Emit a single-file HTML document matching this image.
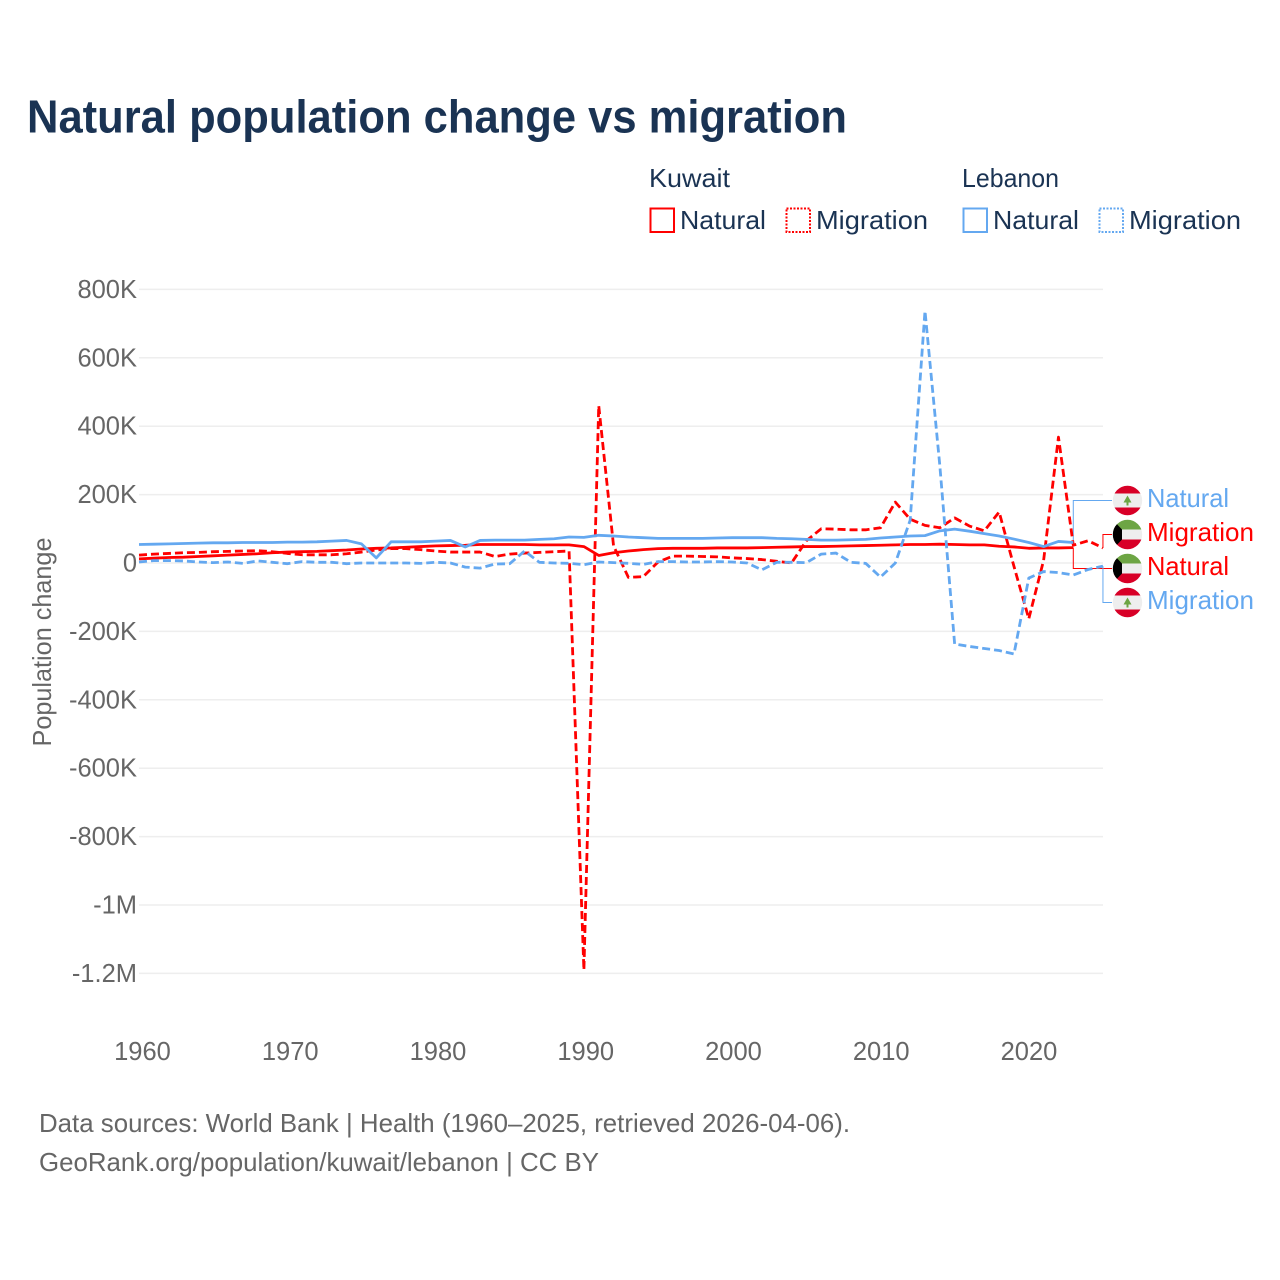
<!DOCTYPE html>
<html lang="en">
<head>
<meta charset="utf-8">
<title>Natural population change vs migration</title>
<style>
html,body{margin:0;padding:0;background:#fff;}
svg{display:block;}
text{font-family:"Liberation Sans",sans-serif;}
</style>
</head>
<body>
<svg id="chart" xmlns="http://www.w3.org/2000/svg" width="1280" height="1280" viewBox="0 0 1280 1280">
  <defs>
    <clipPath id="flag-clip"><circle cx="0" cy="0" r="14.7"></circle></clipPath>
  </defs>
  <rect x="0" y="0" width="1280" height="1280" fill="#fff"></rect>
  <text x="27" y="132.5" font-size="46" font-weight="700" fill="#1a3353" textLength="820" lengthAdjust="spacingAndGlyphs">Natural population change vs migration</text>

  <g font-size="26" fill="#1a3353">
    <text x="649" y="187" textLength="81" lengthAdjust="spacingAndGlyphs">Kuwait</text>
    <text x="962" y="187" textLength="97" lengthAdjust="spacingAndGlyphs">Lebanon</text>
    <g>
      <rect x="650.5" y="208.5" width="23.5" height="23.5" fill="none" stroke="#ff0000" stroke-width="2"></rect>
      <text x="680" y="229" textLength="86" lengthAdjust="spacingAndGlyphs">Natural</text>
    </g>
    <g>
      <rect x="786.5" y="208.5" width="23.5" height="23.5" fill="none" stroke="#ff0000" stroke-width="2" stroke-dasharray="2 1.5"></rect>
      <text x="816" y="229" textLength="112" lengthAdjust="spacingAndGlyphs">Migration</text>
    </g>
    <g>
      <rect x="963.5" y="208.5" width="23.5" height="23.5" fill="none" stroke="#64a8f0" stroke-width="2"></rect>
      <text x="993" y="229" textLength="86" lengthAdjust="spacingAndGlyphs">Natural</text>
    </g>
    <g>
      <rect x="1099.5" y="208.5" width="23.5" height="23.5" fill="none" stroke="#64a8f0" stroke-width="2" stroke-dasharray="2 1.5"></rect>
      <text x="1129" y="229" textLength="112" lengthAdjust="spacingAndGlyphs">Migration</text>
    </g>
  </g>

  <g id="grid"></g>
  <g id="y-ticks"></g>
  <g id="x-ticks"></g>
  <text transform="translate(51,642) rotate(-90)" text-anchor="middle" font-size="26" fill="#666666" textLength="209" lengthAdjust="spacingAndGlyphs">Population change</text>
  <g id="leaders"></g>
  <g id="series"></g>

  <g transform="translate(1127.5,500.5)">
    <g clip-path="url(#flag-clip)">
      <rect x="-15" y="-15" width="30" height="30" fill="#eeeeee"></rect>
      <rect x="-15" y="-15" width="30" height="8" fill="#d80027"></rect>
      <rect x="-15" y="7" width="30" height="8" fill="#d80027"></rect>
      <polygon points="0,-5 4,2 1,2 1,5 -1,5 -1,2 -4,2" fill="#6da544"></polygon>
    </g>
  </g>
  <g transform="translate(1127.5,534.5)">
    <g clip-path="url(#flag-clip)">
      <rect x="-15" y="-15" width="30" height="10" fill="#6da544"></rect>
      <rect x="-15" y="-5" width="30" height="10" fill="#eeeeee"></rect>
      <rect x="-15" y="5" width="30" height="10" fill="#d80027"></rect>
      <polygon points="-15,-15 -5.5,-5 -5.5,5 -15,15" fill="#000000"></polygon>
    </g>
  </g>
  <g transform="translate(1127.5,568.5)">
    <g clip-path="url(#flag-clip)">
      <rect x="-15" y="-15" width="30" height="10" fill="#6da544"></rect>
      <rect x="-15" y="-5" width="30" height="10" fill="#eeeeee"></rect>
      <rect x="-15" y="5" width="30" height="10" fill="#d80027"></rect>
      <polygon points="-15,-15 -5.5,-5 -5.5,5 -15,15" fill="#000000"></polygon>
    </g>
  </g>
  <g transform="translate(1127.5,602.5)">
    <g clip-path="url(#flag-clip)">
      <rect x="-15" y="-15" width="30" height="30" fill="#eeeeee"></rect>
      <rect x="-15" y="-15" width="30" height="8" fill="#d80027"></rect>
      <rect x="-15" y="7" width="30" height="8" fill="#d80027"></rect>
      <polygon points="0,-5 4,2 1,2 1,5 -1,5 -1,2 -4,2" fill="#6da544"></polygon>
    </g>
  </g>

  <g font-size="26">
    <text x="1147" y="507" fill="#64a8f0" textLength="82" lengthAdjust="spacingAndGlyphs">Natural</text>
    <text x="1147" y="541" fill="#ff0000" textLength="107" lengthAdjust="spacingAndGlyphs">Migration</text>
    <text x="1147" y="575" fill="#ff0000" textLength="82" lengthAdjust="spacingAndGlyphs">Natural</text>
    <text x="1147" y="609" fill="#64a8f0" textLength="107" lengthAdjust="spacingAndGlyphs">Migration</text>
  </g>

  <g font-size="26" fill="#666666">
    <text x="39" y="1132" textLength="811" lengthAdjust="spacingAndGlyphs">Data sources: World Bank | Health (1960–2025, retrieved 2026-04-06).</text>
    <text x="39" y="1171" textLength="560" lengthAdjust="spacingAndGlyphs">GeoRank.org/population/kuwait/lebanon | CC BY</text>
  </g>
</svg>

<script>
const yTickValues = [800, 600, 400, 200, 0, -200, -400, -600, -800, -1000, -1200];
const yTickLabels = ["800K", "600K", "400K", "200K", "0", "-200K", "-400K", "-600K", "-800K", "-1M", "-1.2M"];
const xTickYears = [1960, 1970, 1980, 1990, 2000, 2010, 2020];
const xTickLabels = ["1960", "1970", "1980", "1990", "2000", "2010", "2020"];

const firstYear = 1960;

// Values in thousands of people, one per year starting at 1960
const kuwaitNatural = [
  12, 14, 16, 17, 19, 21, 23, 25, 27, 30,
  32, 33, 34, 36, 38, 41, 43, 44, 46, 48,
  50, 51, 52, 54, 54, 54, 54, 53, 53, 53,
  48, 22, 30, 35, 39, 42, 43, 43, 43, 44,
  44, 44, 45, 46, 47, 48, 48, 49, 50, 51,
  52, 53, 54, 54, 55, 54, 53, 53, 49, 47,
  43, 44, 44, 45
];
const kuwaitMigration = [
  23, 26, 28, 30, 31, 33, 34, 35, 36, 33,
  28, 24, 24, 24, 27, 32, 38, 42, 42, 39,
  35, 32, 32, 32, 19, 26, 29, 31, 33, 35,
  -1190, 460, 50, -42, -40, 3, 20, 20, 19, 18,
  15, 13, 10, 5, 0, 65, 100, 99, 97, 97,
  103, 178, 128, 110, 103, 132, 108, 94, 149, -10,
  -163, 8, 368, 52, 65, 44
];
const lebanonNatural = [
  54, 55, 56, 57, 58, 59, 59, 60, 60, 60,
  61, 61, 62, 64, 66, 56, 15, 62, 62, 62,
  64, 66, 47, 66, 67, 67, 67, 69, 71, 76,
  75, 81, 79, 76, 74, 72, 72, 72, 72, 73,
  74, 74, 74, 72, 71, 69, 67, 67, 68, 69,
  73, 76, 79, 80, 94, 99, 93, 86, 79, 70,
  60, 48, 63, 60
];
const lebanonMigration = [
  3, 7, 7, 6, 3, 1, 3, -1, 6, 2,
  -2, 4, 2, 2, -2, 0, 0, 0, 0, -1,
  2, 0, -12, -15, -3, -2, 35, 2, 0, -1,
  -5, 3, 1, -1, -4, 4, 4, 3, 3, 4,
  3, 0, -20, 2, 2, 1, 26, 29, 2, -1,
  -41, 0, 125, 737, 285, -237, -244, -250, -256, -266,
  -44, -25, -28, -35, -19, -9
];

const svgNS = "http://www.w3.org/2000/svg";
const xScale = function (year) { return 139 + (year - firstYear) * 14.83; };
const yScale = function (value) { return 563 - value * 0.342; };
const xLabelPos = function (year) { return 142.5 + (year - firstYear) * 14.775; };

const gridLayer = document.getElementById("grid");
const yTickLayer = document.getElementById("y-ticks");
const xTickLayer = document.getElementById("x-ticks");
const seriesLayer = document.getElementById("series");
const leaderLayer = document.getElementById("leaders");

yTickValues.forEach(function (value, i) {
  const line = document.createElementNS(svgNS, "line");
  
  
  line.setAttribute("x1", 139);
  line.setAttribute("x2", 1103);
  line.setAttribute("y1", yScale(value));
  line.setAttribute("y2", yScale(value));
  line.setAttribute("stroke", "#eeeeee");
  line.setAttribute("stroke-width", "1.5");
  gridLayer.appendChild(line);

  const label = document.createElementNS(svgNS, "text");
  
  
  label.setAttribute("x", 137);
  label.setAttribute("y", yScale(value) + 8.5);
  label.setAttribute("text-anchor", "end");
  label.setAttribute("font-size", "25.5");
  label.setAttribute("fill", "#666666");
  label.textContent = yTickLabels[i];
  yTickLayer.appendChild(label);
});

xTickYears.forEach(function (year, i) {
  const label = document.createElementNS(svgNS, "text");
  
  
  label.setAttribute("x", xLabelPos(year));
  label.setAttribute("y", 1060);
  label.setAttribute("text-anchor", "middle");
  label.setAttribute("font-size", "25.5");
  label.setAttribute("fill", "#666666");
  label.textContent = xTickLabels[i];
  xTickLayer.appendChild(label);
});

function linePath(values) {
  return values.map(function (value, i) {
    return (i === 0 ? "M" : "L") + xScale(firstYear + i).toFixed(2) + " " + yScale(value).toFixed(2);
  }).join(" ");
}

function addLine(values, color, dashed) {
  const path = document.createElementNS(svgNS, "path");
  path.setAttribute("d", linePath(values));
  path.setAttribute("fill", "none");
  path.setAttribute("stroke", color);
  path.setAttribute("stroke-width", "2.8");
  path.setAttribute("stroke-linejoin", "round");
  if (dashed) { path.setAttribute("stroke-dasharray", "8 4"); }
  seriesLayer.appendChild(path);
  return path;
}

function addLeader(values, labelY, color) {
  const lastIndex = values.length - 1;
  const path = document.createElementNS(svgNS, "path");
  path.setAttribute("d", "M" + xScale(firstYear + lastIndex).toFixed(2) + " " + yScale(values[lastIndex]).toFixed(2) + " V" + labelY + " H1112");
  path.setAttribute("fill", "none");
  path.setAttribute("stroke", color);
  path.setAttribute("stroke-width", "1");
  leaderLayer.appendChild(path);
  return path;
}

const leaderA = addLeader(lebanonNatural, 500.5, "#64a8f0");


const leaderB = addLeader(kuwaitMigration, 534.5, "#ff0000");


const leaderC = addLeader(kuwaitNatural, 568.5, "#ff0000");


const leaderD = addLeader(lebanonMigration, 602.5, "#64a8f0");



const lineKuwaitNatural = addLine(kuwaitNatural, "#ff0000", false);


const lineKuwaitMigration = addLine(kuwaitMigration, "#ff0000", true);


const lineLebanonNatural = addLine(lebanonNatural, "#64a8f0", false);


const lineLebanonMigration = addLine(lebanonMigration, "#64a8f0", true);


</script>
</body>
</html>
